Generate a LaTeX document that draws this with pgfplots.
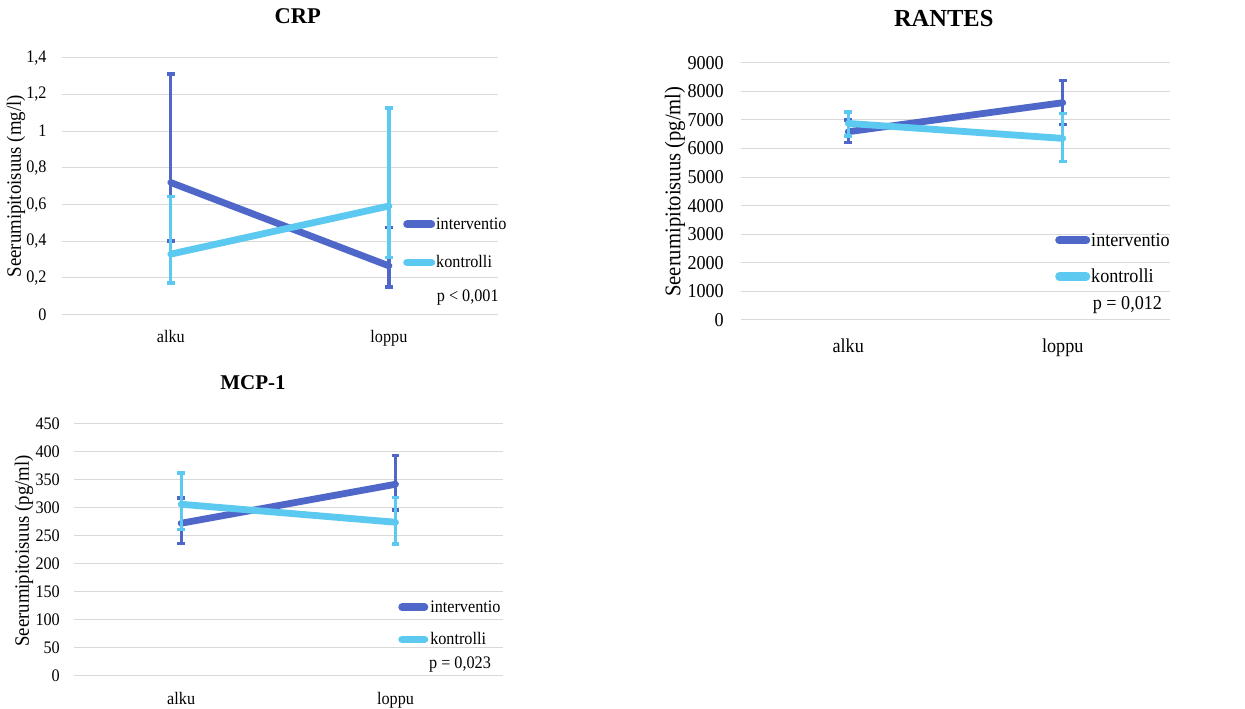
\documentclass[border=0pt]{standalone}
\usepackage{pgfplots}
\pgfplotsset{compat=1.18}
\usepackage{fontspec}
\setmainfont{Liberation Serif}[FakeStretch=0.92]
\newfontfamily\titlefamily{Liberation Serif}
\definecolor{cint}{RGB}{78,103,200}
\definecolor{ckon}{RGB}{91,201,240}
\definecolor{gridc}{RGB}{217,217,217}
\pgfplotsset{
  panel/.style={
    scale only axis, clip=false, anchor=south west,
    xmin=-0.5, xmax=1.5, xtick={0,1}, xticklabels={alku,loppu},
    ymin=0, ymajorgrids=true, grid style={gridc, line width=1pt},
    axis line style={draw=none}, major tick length=0pt, tick style={draw=none},
    /pgf/number format/use comma, /pgf/number format/1000 sep={},
    /pgf/number format/assume math mode=true,
    legend cell align=left,
  },
  intv/.style={color=cint, line width=6.8pt, line cap=round, line join=round, mark=none,
    error bars/y dir=both, error bars/y explicit,
    error bars/error bar style={line width=3.3pt, color=cint, line cap=butt},
    error bars/error mark options={rotate=90, color=cint, line width=3.6pt, mark size=3.9pt, line cap=butt}},
  kont/.style={color=ckon, line width=6.8pt, line cap=round, line join=round, mark=none,
    error bars/y dir=both, error bars/y explicit,
    error bars/error bar style={line width=3.3pt, color=ckon, line cap=butt},
    error bars/error mark options={rotate=90, color=ckon, line width=3.6pt, mark size=3.9pt, line cap=butt}},
}
\begin{document}
\begin{tikzpicture}[x=1pt,y=1pt]
\useasboundingbox[fill=white] (0,0) rectangle (1245,709);

% CRP
\begin{axis}[panel, at={(61.7pt,394.3pt)}, width=436.3pt, height=257pt,
  ymax=1.4, ytick={0,0.2,0.4,0.6,0.8,1,1.2,1.4},
  font=\fontsize{17.6}{20}\selectfont,
  yticklabel style={inner sep=0pt, xshift=-15pt},
  xticklabel style={inner sep=0pt, yshift=-15.3pt},
  title={\titlefamily\bfseries\fontsize{22.5}{26}\selectfont CRP},
  title style={at={(0.541,1.137)}, anchor=center, inner sep=0pt},
  ylabel={\fontsize{20.4}{24}\selectfont Seerumipitoisuus (mg/l)},
  ylabel style={at={(-0.1047,0.5)}, anchor=center},
  legend image code/.code={\draw[#1, line cap=round, line width=7.8pt] (3.9pt,0pt) -- (28.1pt,0pt);},
  legend style={draw=none, fill=none, at={(0.7823,0.277)}, anchor=west, inner sep=0pt,
    row sep=24.7pt, column sep=1pt, nodes={inner sep=0pt}},
]
\addplot[intv] coordinates {(0,0.72) += (0,0.59) -= (0,0.32) (1,0.266) += (0,0.208) -= (0,0.115)};
\addlegendentry{interventio}
\addplot[kont] coordinates {(0,0.33) += (0,0.313) -= (0,0.156) (1,0.592) += (0,0.534) -= (0,0.281)};
\addlegendentry{kontrolli}
\node[anchor=west, inner sep=0pt] at (rel axis cs:0.8595,0.067) {p < 0,001};
\end{axis}

% RANTES
\begin{axis}[panel, at={(741pt,389pt)}, width=429pt, height=257.3pt,
  ymax=9000, ytick={0,1000,2000,3000,4000,5000,6000,7000,8000,9000},
  font=\fontsize{19.7}{23}\selectfont,
  yticklabel style={inner sep=0pt, xshift=-17pt},
  xticklabel style={inner sep=0pt, yshift=-18.3pt},
  title={\titlefamily\bfseries\fontsize{24.5}{28}\selectfont RANTES},
  title style={at={(0.4725,1.1465)}, anchor=center, inner sep=0pt},
  ylabel={\fontsize{22.4}{26}\selectfont Seerumipitoisuus (pg/ml)},
  ylabel style={at={(-0.1538,0.499)}, anchor=center},
  legend image code/.code={\draw[#1, line cap=round, line width=8.2pt] (4.1pt,0pt) -- (30.9pt,0pt);},
  legend style={draw=none, fill=none, at={(0.732,0.239)}, anchor=west, inner sep=0pt,
    row sep=21.3pt, column sep=1pt, nodes={inner sep=0pt}},
]
\addplot[intv] coordinates {(0,6585) += (0,408) -= (0,373) (1,7600) += (0,780) -= (0,760)};
\addlegendentry{interventio}
\addplot[kont] coordinates {(0,6876) += (0,408) -= (0,431) (1,6352) += (0,874) -= (0,804)};
\addlegendentry{kontrolli}
\node[anchor=west, inner sep=0pt] at (rel axis cs:0.8198,0.058) {p = 0,012};
\end{axis}

% MCP-1
\begin{axis}[panel, at={(74pt,33pt)}, width=428.7pt, height=252.7pt,
  ymax=450, ytick={0,50,100,150,200,250,300,350,400,450},
  font=\fontsize{17.6}{20}\selectfont,
  yticklabel style={inner sep=0pt, xshift=-14pt},
  xticklabel style={inner sep=0pt, yshift=-15.7pt},
  title={\titlefamily\bfseries\fontsize{21}{25}\selectfont MCP-1},
  title style={at={(0.4175,1.1357)}, anchor=center, inner sep=0pt},
  ylabel={\fontsize{20.4}{24}\selectfont Seerumipitoisuus (pg/ml)},
  ylabel style={at={(-0.1166,0.495)}, anchor=center},
  legend image code/.code={\draw[#1, line cap=round, line width=7.5pt] (3.75pt,0pt) -- (26.25pt,0pt);},
  legend style={draw=none, fill=none, at={(0.756,0.208)}, anchor=west, inner sep=0pt,
    row sep=18.7pt, column sep=2pt, nodes={inner sep=0pt}},
]
\addplot[intv] coordinates {(0,272) += (0,44.5) -= (0,36) (1,341.4) += (0,51.6) -= (0,45.4)};
\addlegendentry{interventio}
\addplot[kont] coordinates {(0,305.8) += (0,55.2) -= (0,45.1) (1,273.8) += (0,44.2) -= (0,39.2)};
\addlegendentry{kontrolli}
\node[anchor=west, inner sep=0pt] at (rel axis cs:0.828,0.0435) {p = 0,023};
\end{axis}
\end{tikzpicture}
\end{document}
